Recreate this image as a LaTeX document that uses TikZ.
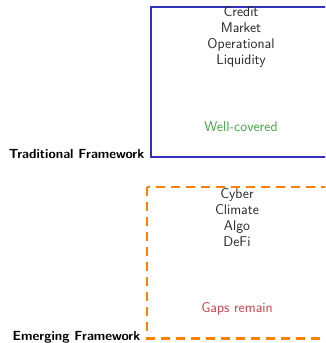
\documentclass[tikz,border=0pt]{standalone}
\usepackage{tikz}
\definecolor{boxblue}{RGB}{50,50,190}
\definecolor{gaporange}{RGB}{255,128,0}
\definecolor{okgreen}{RGB}{60,165,60}
\definecolor{gapred}{RGB}{205,60,70}
\tikzset{
  listtext/.style={font=\sffamily\fontsize{14.1}{16}\selectfont, align=center, text=black!85, inner sep=0pt},
  notetext/.style={font=\sffamily\fontsize{14.1}{16}\selectfont, inner sep=0pt},
  framelabel/.style={font=\sffamily\bfseries\fontsize{13.2}{16}\selectfont, inner sep=0pt, anchor=base east},
  tradbox/.style={draw=boxblue, line width=2pt},
  emergebox/.style={draw=gaporange, line width=2.6pt, dash pattern=on 9pt off 6pt},
}
\begin{document}
\begin{tikzpicture}[x=1pt,y=1pt]
\useasboundingbox (0,0) rectangle (325,-343);
\clip (0,0) rectangle (325,-343);
% traditional framework box
\draw[tradbox] (151,-7) rectangle (331,-157);
\node[listtext, anchor=north] (tradlist) at (241,-6.7) {Credit\\Market\\Operational\\Liquidity};
\node[notetext, text=okgreen, anchor=base] (tradnote) at (241,-131) {Well-covered};
\node[framelabel] (tradlabel) at (144.5,-158) {Traditional Framework};
% emerging framework box
\draw[emergebox] (147,-187) rectangle (327,-338.5);
\node[listtext, anchor=north] (emergelist) at (237,-188.2) {Cyber\\Climate\\Algo\\DeFi};
\node[notetext, text=gapred, anchor=base] (emergenote) at (237,-312.5) {Gaps remain};
\node[framelabel] (emergelabel) at (140.5,-340) {Emerging Framework};
\end{tikzpicture}
\end{document}
